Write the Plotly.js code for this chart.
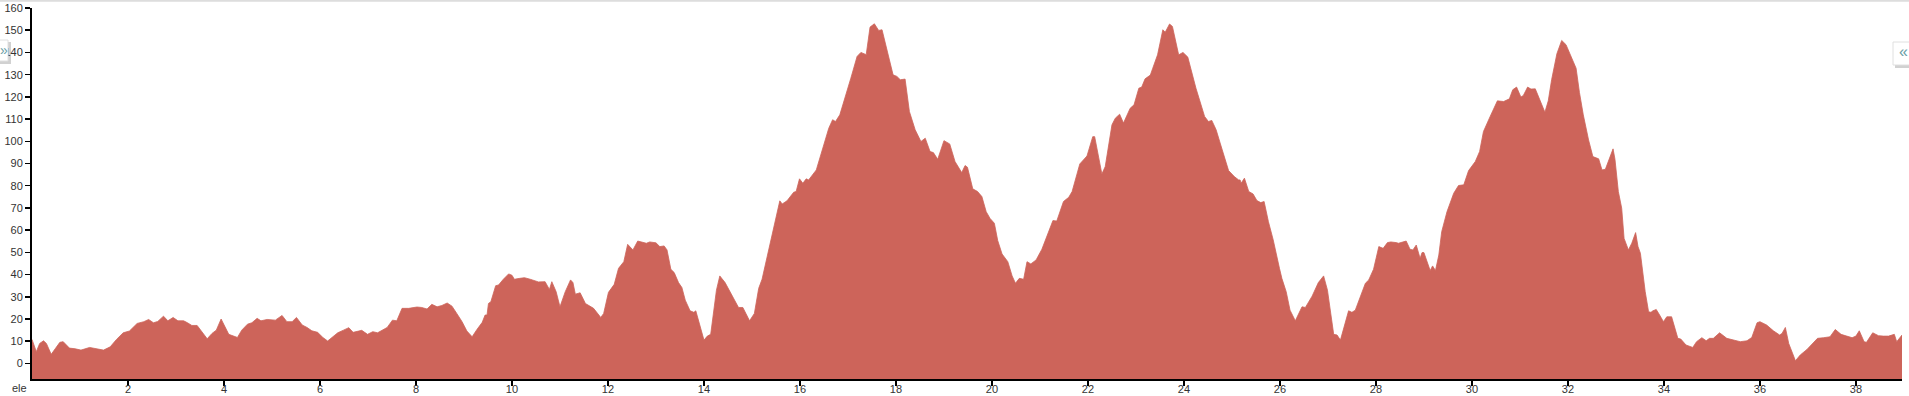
<!DOCTYPE html>
<html>
<head>
<meta charset="utf-8">
<script src="https://cdn.plot.ly/plotly-3.0.1.min.js"></script>
<style>
html,body{margin:0;padding:0;background:#fff;overflow:hidden;}
#chart{width:1909px;height:396px;}
</style>
</head>
<body>
<div id="chart"></div>
<script>
// distance along the route (km)
const distKm = [
0.00,0.09,0.16,0.24,0.30,0.40,0.49,0.58,0.65,0.78,0.90,1.02,1.20,1.35,1.49,1.63,1.76,1.90,2.03,2.19,
2.33,2.43,2.53,2.62,2.74,2.83,2.94,3.04,3.16,3.24,3.33,3.44,3.54,3.65,3.75,3.84,3.94,4.03,4.10,4.28,
4.37,4.49,4.58,4.69,4.77,4.90,5.07,5.21,5.31,5.42,5.51,5.63,5.73,5.83,5.95,6.06,6.16,6.25,6.37,6.49,
6.60,6.69,6.87,6.99,7.10,7.20,7.29,7.40,7.51,7.60,7.71,7.85,8.02,8.12,8.23,8.33,8.44,8.54,8.65,8.75,
8.85,8.96,9.06,9.17,9.27,9.38,9.44,9.48,9.51,9.56,9.66,9.72,9.82,9.93,10.00,10.05,10.16,10.26,10.38,10.55,
10.69,10.73,10.78,10.83,10.92,11.00,11.11,11.22,11.27,11.32,11.42,11.53,11.70,11.85,11.91,12.01,12.13,12.22,12.33,12.41,
12.52,12.62,12.80,12.87,13.00,13.08,13.17,13.23,13.31,13.38,13.47,13.54,13.61,13.71,13.79,13.83,13.92,14.00,14.07,14.14,
14.26,14.33,14.44,14.58,14.72,14.81,14.95,15.05,15.14,15.21,15.35,15.46,15.58,15.63,15.73,15.87,15.92,15.99,16.06,16.13,
16.18,16.34,16.46,16.60,16.68,16.74,16.83,16.95,17.06,17.19,17.27,17.38,17.46,17.55,17.64,17.71,17.80,17.87,17.94,18.02,
18.09,18.19,18.28,18.40,18.52,18.61,18.71,18.78,18.87,19.00,19.12,19.23,19.37,19.44,19.49,19.60,19.70,19.79,19.88,19.96,
20.05,20.12,20.21,20.33,20.42,20.49,20.57,20.66,20.73,20.81,20.92,21.04,21.16,21.27,21.35,21.49,21.60,21.67,21.83,21.98,
22.10,22.14,22.29,22.36,22.50,22.57,22.66,22.74,22.88,22.96,23.06,23.12,23.19,23.30,23.35,23.45,23.56,23.61,23.70,23.76,
23.89,23.98,24.08,24.25,24.43,24.51,24.58,24.67,24.76,24.93,25.05,25.14,25.17,25.19,25.26,25.35,25.44,25.52,25.60,25.67,
25.76,25.86,25.99,26.04,26.13,26.21,26.32,26.46,26.53,26.67,26.80,26.91,26.99,27.12,27.19,27.26,27.43,27.50,27.57,27.67,
27.78,27.85,27.95,28.06,28.15,28.24,28.31,28.42,28.47,28.63,28.71,28.77,28.84,28.92,28.96,29.00,29.13,29.18,29.24,29.31,
29.37,29.48,29.62,29.72,29.83,29.93,30.07,30.16,30.24,30.38,30.53,30.66,30.78,30.85,30.93,31.02,31.07,31.16,31.23,31.32,
31.42,31.52,31.59,31.66,31.77,31.87,31.96,32.06,32.17,32.24,32.32,32.43,32.52,32.64,32.71,32.78,32.87,32.94,32.98,33.05,
33.12,33.17,33.26,33.33,33.41,33.46,33.51,33.61,33.68,33.73,33.77,33.84,33.91,33.99,34.06,34.16,34.29,34.35,34.46,34.60,
34.68,34.79,34.88,34.95,35.03,35.16,35.31,35.45,35.59,35.73,35.83,35.94,36.00,36.14,36.28,36.41,36.46,36.53,36.60,36.74,
36.84,36.98,37.08,37.20,37.33,37.46,37.57,37.69,37.81,37.92,38.00,38.07,38.17,38.22,38.35,38.47,38.57,38.68,38.80,38.85,
38.96
];
// elevation (m)
const elevation = [
10.8,5.3,9.0,10.2,9.0,4.1,6.8,9.5,9.8,6.9,6.6,6.0,7.2,6.6,6.0,7.5,10.8,13.8,14.6,18.0,
18.8,19.8,18.3,18.9,21.3,19.2,20.7,19.2,19.2,18.3,17.1,17.1,14.3,11.1,13.5,15.0,20.0,15.8,13.1,11.7,
15.0,17.7,18.3,20.3,19.2,19.8,19.5,21.6,18.8,18.8,20.7,17.3,16.2,14.7,14.0,11.7,10.1,11.7,13.8,15.0,
16.1,14.0,14.9,13.1,14.3,13.8,15.0,16.2,19.5,19.2,24.8,24.8,25.4,25.2,24.5,26.6,25.5,26.1,27.2,25.8,
22.5,18.8,14.6,12.0,15.3,18.5,21.8,21.8,27.0,27.8,35.0,35.3,37.9,40.3,39.7,37.9,38.3,38.6,37.9,36.7,
36.8,35.3,33.3,36.8,32.3,25.5,32.3,37.6,36.4,31.2,31.8,27.0,24.8,20.7,22.5,32.0,35.6,42.8,45.8,53.6,
51.1,55.1,54.1,54.7,54.3,52.6,52.9,51.1,42.4,40.9,36.4,34.2,28.5,23.7,23.0,23.7,17.3,10.5,12.3,13.1,
33.0,39.4,36.4,30.8,25.2,25.2,19.2,22.5,33.8,37.9,51.8,62.3,73.2,71.8,73.2,77.1,77.4,83.1,81.1,83.1,
82.6,87.1,95.4,105.9,109.7,108.9,111.9,120.2,128.4,138.2,140.0,139.0,151.4,152.9,149.9,150.2,142.0,135.9,129.9,129.2,
127.7,128.0,113.4,105.2,99.9,101.4,95.4,94.9,91.9,100.3,98.8,90.9,85.9,89.1,88.3,78.6,77.4,75.1,68.3,65.3,
63.1,55.3,49.3,45.8,39.4,36.1,38.3,37.9,45.8,44.8,46.6,51.4,57.8,64.3,64.1,72.9,74.8,77.4,89.8,93.4,
102.1,102.1,85.3,88.6,107.4,110.4,112.2,108.2,114.9,116.4,123.9,124.4,128.1,129.8,132.9,138.9,150.2,149.1,152.8,151.7,
138.9,140.0,137.9,123.9,111.2,108.9,109.4,105.2,98.8,86.8,84.1,82.6,82.6,81.1,83.4,77.4,76.3,73.3,72.4,72.9,
63.8,55.6,42.8,38.3,32.3,24.0,19.2,25.5,25.2,30.3,36.4,39.4,33.0,13.1,12.8,10.5,23.7,23.0,24.0,30.0,
36.1,37.6,42.4,52.6,51.8,54.4,54.7,54.4,54.1,55.1,51.4,51.1,53.3,47.3,49.9,49.9,41.8,43.9,41.8,48.8,
59.3,68.3,76.6,80.1,80.4,86.8,90.9,95.4,104.4,111.2,118.2,117.9,119.1,123.2,124.4,119.9,120.6,124.4,123.5,123.6,
117.9,113.1,118.2,127.7,139.4,145.4,143.5,138.5,132.9,122.0,111.9,100.6,93.1,92.1,87.1,87.4,92.4,96.6,91.9,77.4,
69.9,56.3,51.1,54.1,58.9,52.6,49.6,32.3,23.3,23.0,23.7,24.3,21.8,18.8,21.0,21.0,11.3,11.0,8.3,7.2,
9.8,11.6,10.2,11.3,11.3,13.8,11.3,10.5,9.8,10.2,11.7,18.3,18.8,17.3,14.7,12.8,13.5,16.2,9.0,1.2,
3.8,6.3,8.6,11.3,11.6,12.0,15.3,13.1,12.3,11.6,12.3,14.7,9.8,9.5,13.8,12.5,12.3,12.3,13.1,9.8,
12.8
];
// tick labels
const xTickVals = [2,4,6,8,10,12,14,16,18,20,22,24,26,28,30,32,34,36,38];
const yTickVals = [0,10,20,30,40,50,60,70,80,90,100,110,120,130,140,150,160];
const xRange = [0, 38.96];
const yRange = [-7, 160];

const fillColor = 'rgb(205,100,90)';

const baseline = {
  x: [xRange[0], xRange[1]],
  y: [yRange[0], yRange[0]],
  mode: 'lines',
  line: {width: 0, color: 'rgba(0,0,0,0)'},
  hoverinfo: 'skip',
  showlegend: false
};
const profile = {
  x: distKm,
  y: elevation,
  mode: 'lines',
  fill: 'tonexty',
  fillcolor: fillColor,
  line: {color: fillColor, width: 0.8},
  name: 'ele',
  showlegend: false
};

// pixel helpers for decorative UI widgets (paper coordinates)
const L = 32, R = 1902, T = 8, B = 379;
const px = v => (v - L) / (R - L);
const py = v => (B - v) / (B - T);

const layout = {
  width: 1909,
  height: 396,
  margin: {l: L, r: 1909 - R, t: T, b: 396 - B, pad: 0},
  paper_bgcolor: '#ffffff',
  plot_bgcolor: '#ffffff',
  showlegend: false,
  font: {family: '"Liberation Sans", Arial, sans-serif', size: 11, color: '#333'},
  xaxis: {
    range: xRange,
    tickmode: 'array',
    tickvals: xTickVals,
    ticktext: xTickVals.map(String),
    showline: true, linecolor: '#000', linewidth: 2,
    ticks: 'outside', ticklen: 5, tickwidth: 1.5, tickcolor: '#000',
    ticklabelstandoff: -6,
    showgrid: false, zeroline: false,
    tickfont: {size: 11, color: '#333'}
  },
  yaxis: {
    range: yRange,
    tickmode: 'array',
    tickvals: yTickVals,
    ticktext: yTickVals.map(String),
    showline: true, linecolor: '#000', linewidth: 2,
    ticks: 'outside', ticklen: 5, tickwidth: 1.5, tickcolor: '#000',
    showgrid: false, zeroline: false,
    tickfont: {size: 11, color: '#333'}
  },
  annotations: [
    {text: 'ele', xref: 'paper', yref: 'paper', x: 0, y: 0,
     xanchor: 'right', yanchor: 'top', xshift: -3, yshift: -1,
     showarrow: false, font: {size: 11, color: '#333'}},
    {text: '»', xref: 'paper', yref: 'paper', x: px(4), y: py(50),
     xanchor: 'center', yanchor: 'middle', showarrow: false,
     font: {size: 14, color: '#6a9ea6'}},
    {text: '«', xref: 'paper', yref: 'paper', x: px(1903), y: py(52),
     xanchor: 'center', yanchor: 'middle', showarrow: false,
     font: {size: 16, color: '#6a9ea6'}}
  ],
  shapes: [
    {type: 'line', xref: 'paper', yref: 'paper', x0: px(0), x1: px(1909), y0: py(0.8), y1: py(0.8),
     line: {color: '#dddddd', width: 2}},
    // left widget shadow + body
    {type: 'rect', xref: 'paper', yref: 'paper', x0: px(-10), x1: px(11), y0: py(42), y1: py(64),
     fillcolor: 'rgba(0,0,0,0.18)', line: {width: 0}},
    {type: 'rect', xref: 'paper', yref: 'paper', x0: px(-10), x1: px(8), y0: py(40), y1: py(61),
     fillcolor: '#ffffff', line: {color: '#e0e0e0', width: 1}},
    // right widget shadow + body
    {type: 'rect', xref: 'paper', yref: 'paper', x0: px(1895), x1: px(1912), y0: py(45), y1: py(68),
     fillcolor: 'rgba(0,0,0,0.18)', line: {width: 0}},
    {type: 'rect', xref: 'paper', yref: 'paper', x0: px(1893), x1: px(1912), y0: py(42), y1: py(65),
     fillcolor: '#ffffff', line: {color: '#e0e0e0', width: 1}}
  ]
};

Plotly.newPlot('chart', [baseline, profile], layout, {displayModeBar: false, staticPlot: true});
</script>
</body>
</html>
